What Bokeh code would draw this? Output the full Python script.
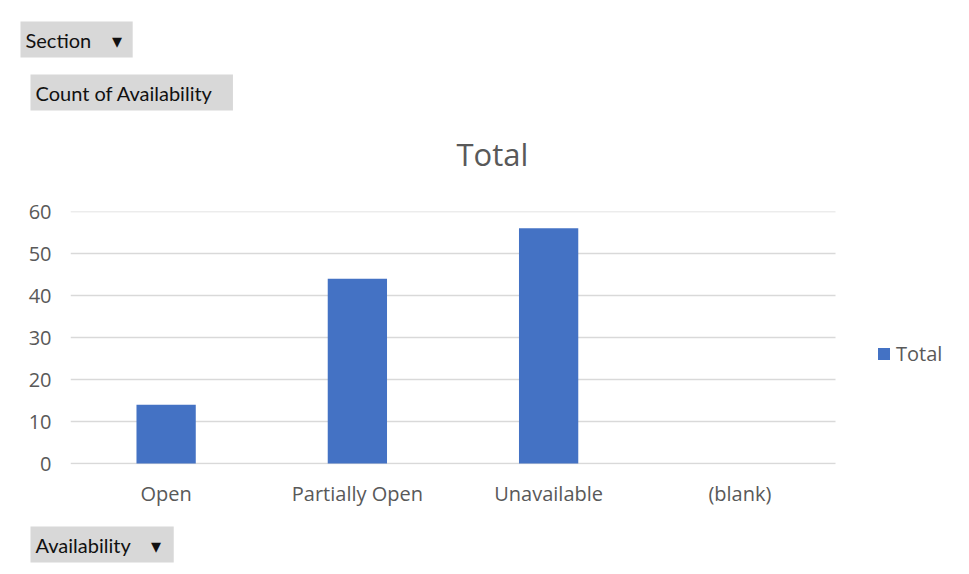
from bokeh.plotting import figure
from bokeh.models import (Range1d, FixedTicker, Title, Legend, LegendItem,
                          ColumnDataSource)
from bokeh.embed import file_html
from bokeh.resources import INLINE

# ---- data ----
CATEGORIES = ["Open", "Partially Open", "Unavailable", "(blank)"]
COUNTS = [14, 44, 56, 0]
Y_TICKS = [0, 10, 20, 30, 40, 50, 60]
SERIES_NAME = "Total"
ROW_FIELD = "Section"
VALUE_FIELD = "Count of Availability"
AXIS_FIELD = "Availability"

BAR_COLOR = "#4472C4"
TEXT_GRAY = "#595959"
GRID_GRAY = "#d9d9d9"
BUTTON_FILL = "#d8d8d8"
NB = "\u00a0"

W, H = 961, 566
FL, FT, FB = 70, 211, 464          # frame left / top / bottom (px)
PLOT_R = 835                        # right edge of the category area (px)
FR = 955                            # frame right (legend lives inside the frame)

n = len(CATEGORIES)
x_pos = [i + 0.5 for i in range(n)]
x_end = n * (FR - FL) / (PLOT_R - FL)

p = figure(width=W, height=H, x_range=Range1d(0, x_end),
           y_range=Range1d(-60 / 252, 60), output_backend="svg", toolbar_location=None,
           min_border_left=FL, min_border_right=W - FR, min_border_top=FT,
           min_border_bottom=H - FB)
p.outline_line_color = None
p.background_fill_color = "white"
p.border_fill_color = "white"

# horizontal gridlines across the category area only
p.xgrid.visible = False
p.ygrid.visible = False
p.segment(x0=[0] * len(Y_TICKS), x1=[n] * len(Y_TICKS), y0=Y_TICKS, y1=Y_TICKS,
          line_color=GRID_GRAY, line_width=1.3)

src = ColumnDataSource(dict(x=x_pos, count=COUNTS, cat=CATEGORIES))
r = p.vbar(x="x", top="count", width=0.31, source=src, fill_color=BAR_COLOR,
           line_color=None)

p.xaxis.ticker = FixedTicker(ticks=x_pos)
p.xaxis.major_label_overrides = {x: c for x, c in zip(x_pos, CATEGORIES)}
p.yaxis.ticker = FixedTicker(ticks=Y_TICKS)
for ax in (p.xaxis[0], p.yaxis[0]):
    ax.axis_line_color = None
    ax.major_tick_line_color = None
    ax.minor_tick_line_color = None
    ax.major_tick_out = 0
    ax.major_tick_in = 0
    ax.minor_tick_out = 0
    ax.major_label_text_color = TEXT_GRAY
    ax.major_label_text_font = "Open Sans"
    ax.major_label_text_font_size = "20px"
p.yaxis.major_label_standoff = 19
p.xaxis.major_label_standoff = 15

# chart title (nearest the frame); padding only used as spacing
p.add_layout(Title(text=SERIES_NAME, align="left", offset=386, standoff=0,
                   text_font="Open Sans", text_font_size="31px",
                   text_font_style="normal", text_color=TEXT_GRAY,
                   padding=dict(left=0, right=0, top=20, bottom=37)), "above")


def button_title(text, offset, standoff, pad_right):
    return Title(text=text, align="left", offset=offset, standoff=standoff,
                 text_font="Lato", text_font_size="20px", text_font_style="normal",
                 text_color="#111111", background_fill_color=BUTTON_FILL,
                 padding=dict(left=5, right=pad_right, top=6, bottom=6))


p.add_layout(button_title(VALUE_FIELD, -40, 0, 20), "above")
# outermost title: the row-field button
p.title = button_title(ROW_FIELD + NB * 4 + "\u25be", -50, 30, 11)

# gap between the category labels and the axis-field button
p.add_layout(Title(text=NB, standoff=0, text_font_size="1px", text_color="white",
                   padding=dict(left=0, right=0, top=12, bottom=0)), "below")
p.add_layout(button_title(AXIS_FIELD + NB * 4 + "\u25be", -40, 0, 13), "below")

legend = Legend(items=[LegendItem(label=SERIES_NAME, renderers=[r])],
                location=(806, 97), orientation="vertical",
                glyph_width=15, glyph_height=15, label_height=16,
                label_standoff=5, padding=0, margin=0, spacing=0,
                border_line_color=None, background_fill_alpha=0,
                label_text_font="Open Sans", label_text_font_size="20px",
                label_text_color=TEXT_GRAY)
p.add_layout(legend)

open("out.html", "w").write(file_html(p, INLINE))
